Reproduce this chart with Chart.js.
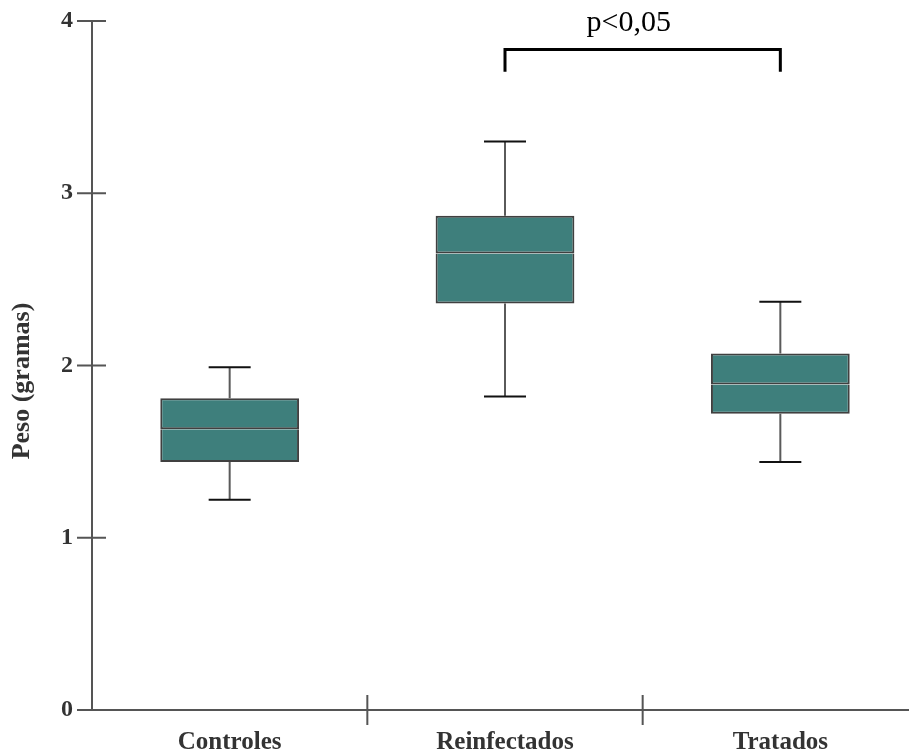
<!DOCTYPE html>
<html>
<head>
<meta charset="utf-8">
<script src="https://cdn.jsdelivr.net/npm/chart.js@4.4.1/dist/chart.umd.min.js"></script>
<style>
  html, body { margin: 0; background: #fff; overflow: hidden; width: 909px; height: 756px; }
</style>
</head>
<body>
<canvas id="myChart" width="918" height="756"></canvas>
<script>
// box plot values
const categories = ['Controles', 'Reinfectados', 'Tratados'];
const whiskerLow = [1.22, 1.82, 1.44];
const q1 = [1.44, 2.36, 1.72];
const median = [1.63, 2.65, 1.89];
const q3 = [1.81, 2.87, 2.07];
const whiskerHigh = [1.99, 3.30, 2.37];
const yTicks = [0, 1, 2, 3, 4];
const pLabel = 'p<0,05';
const pPair = [1, 2]; // Reinfectados vs Tratados

const boxFill = '#3e7f7c';
const boxLine = '#404040';
const axisColor = '#555555';
const serif = "'Liberation Serif', 'Times New Roman', serif";

let lowHalf = [];
let highHalf = [];
for (let i = 0; i < categories.length; i++) {
    lowHalf.push([q1[i], median[i]]);
    highHalf.push([median[i], q3[i]]);
}

// whiskers, tick marks, bracket, y title
const boxExtras = {
    id: 'boxExtras',
    beforeDatasetsDraw(chart) {
        const ctx = chart.ctx;
        const x = chart.scales.x;
        const y = chart.scales.y;
        ctx.save();
        for (let i = 0; i < categories.length; i++) {
            const cx = x.getPixelForValue(i);
            ctx.strokeStyle = '#5a5a5a';
            ctx.lineWidth = 2;
            ctx.beginPath();
            ctx.moveTo(cx, y.getPixelForValue(whiskerHigh[i]));
            ctx.lineTo(cx, y.getPixelForValue(q3[i]));
            ctx.moveTo(cx, y.getPixelForValue(q1[i]));
            ctx.lineTo(cx, y.getPixelForValue(whiskerLow[i]));
            ctx.stroke();
            ctx.strokeStyle = '#111';
            ctx.beginPath();
            ctx.moveTo(cx - 21, y.getPixelForValue(whiskerHigh[i]));
            ctx.lineTo(cx + 21, y.getPixelForValue(whiskerHigh[i]));
            ctx.moveTo(cx - 21, y.getPixelForValue(whiskerLow[i]));
            ctx.lineTo(cx + 21, y.getPixelForValue(whiskerLow[i]));
            ctx.stroke();
        }
        ctx.restore();
    },
    afterDraw(chart) {
        const ctx = chart.ctx;
        const x = chart.scales.x;
        const y = chart.scales.y;
        const area = chart.chartArea;
        ctx.save();
        // tick marks crossing the axes
        ctx.strokeStyle = axisColor;
        ctx.lineWidth = 2;
        ctx.beginPath();
        y.ticks.forEach(t => {
            const py = y.getPixelForValue(t.value);
            ctx.moveTo(area.left - 15, py);
            ctx.lineTo(area.left + 14, py);
        });
        for (let i = 1; i < categories.length; i++) {
            const px = (x.getPixelForValue(i - 1) + x.getPixelForValue(i)) / 2;
            ctx.moveTo(px, area.bottom - 15);
            ctx.lineTo(px, area.bottom + 15);
        }
        ctx.stroke();

        // significance bracket
        const xa = x.getPixelForValue(pPair[0]);
        const xb = x.getPixelForValue(pPair[1]);
        const top = y.getPixelForValue(3.835);
        const foot = y.getPixelForValue(3.705);
        ctx.strokeStyle = '#000';
        ctx.lineWidth = 3;
        ctx.beginPath();
        ctx.moveTo(xa, foot);
        ctx.lineTo(xa, top);
        ctx.lineTo(xb, top);
        ctx.lineTo(xb, foot);
        ctx.stroke();
        ctx.fillStyle = '#000';
        ctx.font = '30px ' + serif;
        ctx.textAlign = 'center';
        ctx.textBaseline = 'alphabetic';
        ctx.fillText(pLabel, (xa + xb) / 2 - 14, y.getPixelForValue(3.94));

        // y title
        ctx.translate(22, 381);
        ctx.rotate(-Math.PI / 2);
        ctx.fillStyle = '#333';
        ctx.font = 'bold 26px ' + serif;
        ctx.textBaseline = 'middle';
        ctx.fillText('Peso (gramas)', 0, 0);
        ctx.restore();
    }
};

var ctx = document.getElementById('myChart');
var myChart = new Chart(ctx, {
    type: 'bar',
    data: {
        labels: categories,
        datasets: [{
            data: lowHalf,
            backgroundColor: boxFill,
            borderColor: boxLine,
            borderWidth: 2,
            borderSkipped: 'top'
        }, {
            data: highHalf,
            backgroundColor: boxFill,
            borderColor: boxLine,
            borderWidth: 2,
            borderSkipped: false
        }]
    },
    options: {
        responsive: false,
        animation: false,
        layout: { padding: { top: 21, right: 0, left: 0, bottom: 0 } },
        plugins: {
            legend: { display: false },
            tooltip: { enabled: false }
        },
        datasets: {
            bar: { categoryPercentage: 1, barPercentage: 0.504 }
        },
        scales: {
            x: {
                stacked: true,
                grid: { display: false },
                border: { display: true, color: axisColor, width: 2 },
                ticks: {
                    color: '#333',
                    padding: 10,
                    font: { family: serif, size: 25, weight: 'bold' }
                },
                afterFit: s => { s.height = 46; s.paddingLeft = 0; s.paddingRight = 0; }
            },
            y: {
                min: 0,
                max: 4,
                afterBuildTicks: s => { s.ticks = yTicks.map(v => ({ value: v })); },
                grid: { display: false },
                border: { display: true, color: axisColor, width: 2 },
                ticks: {
                    color: '#333',
                    padding: 11,
                    font: { family: serif, size: 24, weight: 'bold' }
                },
                afterFit: s => { s.width = 92; s.paddingTop = 0; s.paddingBottom = 0; }
            }
        }
    },
    plugins: [boxExtras]
});
</script>
</body>
</html>
